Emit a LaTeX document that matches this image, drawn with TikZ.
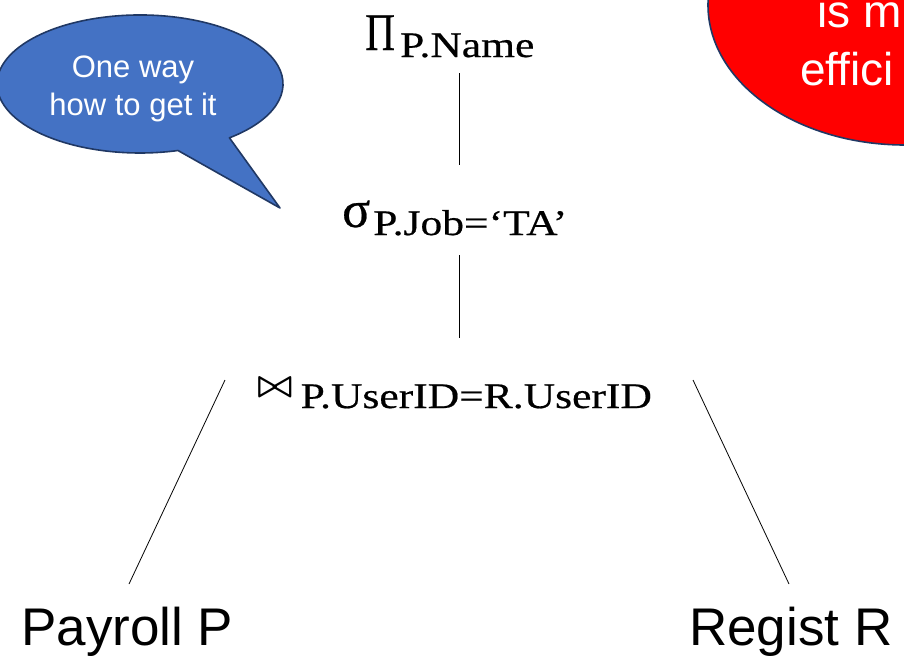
\documentclass[tikz,border=0pt]{standalone}
\usepackage{fontspec}
\usepackage{graphicx}
\setmainfont{Liberation Serif}[FakeBold=0.5]
\newfontfamily\labelsans{Liberation Sans}
\newfontfamily\condserif[FakeStretch=1.21,FakeBold=0.5]{Liberation Serif}
\usetikzlibrary{calc}
\definecolor{bubbleblue}{HTML}{4472C4}
\definecolor{outlinenavy}{HTML}{203864}
\definecolor{alertred}{HTML}{FF0000}

\begin{document}
\begin{tikzpicture}[x=1pt,y=-1pt,
  op/.style={inner sep=0pt, anchor=base west},
  rel/.style={draw=black, line width=0.8pt},
  callout/.style={fill=bubbleblue, draw=outlinenavy, line width=1.6pt, line join=round},
  alertshape/.style={fill=alertred, draw=outlinenavy, line width=1.6pt},
  callouttext/.style={inner sep=0pt, anchor=base, text=white,
    font=\labelsans\fontsize{31}{31}\selectfont},
  alerttext/.style={inner sep=0pt, anchor=base west, text=white,
    font=\labelsans\fontsize{46}{46}\selectfont},
  leaf/.style={inner sep=0pt, anchor=base west,
    font=\labelsans\fontsize{53}{53}\selectfont}]
\useasboundingbox (0,0) rectangle (904,664);
\fill[white] (0,0) rectangle (904,664);
\clip (0,0) rectangle (904,664);

% red remark in the upper right corner
\path[alertshape] (905,5) ellipse [x radius=197pt, y radius=140pt];
\node[alerttext] (alert1) at (817,27) {is m};
\node[alerttext] (alert2) at (800,85) {effici};

% speech bubble on the left
\path[callout] (178,150.5)
  arc[start angle=-74.6, end angle=-411.3, x radius=143pt, y radius=69pt]
  -- (280,208) -- cycle;
\node[callouttext] (say1) at (133,77) {One way};
\node[callouttext] (say2) at (133,115) {how to get it};

% operator tree
\node[op] (pi) at (365,50) {\fontsize{53}{53}\selectfont\scalebox{0.78}[1]{Π}\hspace{5pt}\raisebox{-7pt}{\condserif\fontsize{36}{36}\selectfont P.Name}};
\node[op] (sigma) at (342,227) {\fontsize{52}{52}\selectfont σ\hspace{3pt}\raisebox{-8pt}{\condserif\fontsize{36}{36}\selectfont P.Job=‘TA’}};
\node[op] (join) at (257,396) {\scalebox{3.7}{\boldmath$\bowtie$}\hspace{8pt}\raisebox{-12pt}{\condserif\fontsize{36}{36}\selectfont P.UserID=R.UserID}};
\node[leaf] (payroll) at (21,645) {Payroll P};
\node[leaf] (regist) at (689,645) {Regist R};

\draw[rel] ($(pi.base west)+(94,23)$) -- ($(sigma.base west)+(117,-62)$);
\draw[rel] ($(sigma.base west)+(117,28)$) -- ($(join.base west)+(202,-58)$);
\draw[rel] ($(join.base west)+(-32,-16)$) -- ($(payroll.base west)+(108,-61)$);
\draw[rel] ($(join.base west)+(436,-16)$) -- ($(regist.base west)+(100,-61)$);
\end{tikzpicture}
\end{document}
